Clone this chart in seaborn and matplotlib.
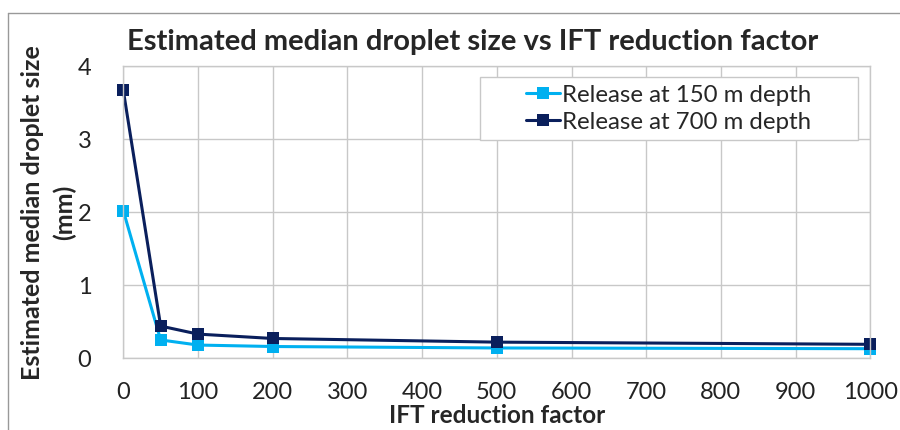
import matplotlib
matplotlib.use("Agg")
import matplotlib.pyplot as plt
from matplotlib.lines import Line2D
from matplotlib.patches import Rectangle
import seaborn as sns
import pandas as pd

# Data
ift_factor = [0, 50, 100, 200, 500, 1000]
size_150m = [2.02, 0.25, 0.18, 0.16, 0.14, 0.13]
size_700m = [3.67, 0.44, 0.33, 0.27, 0.22, 0.19]
series_names = ["Release at 150 m depth", "Release at 700 m depth"]
x_ticks = list(range(0, 1001, 100))
y_ticks = [0, 1, 2, 3, 4]

sns.set_theme(style="whitegrid")
plt.rcParams["font.family"] = ["Lato", "DejaVu Sans"]

df = pd.DataFrame({
    "ift": ift_factor * 2,
    "size": size_150m + size_700m,
    "series": [series_names[0]] * len(ift_factor) + [series_names[1]] * len(ift_factor),
})

fig = plt.figure(figsize=(9, 4.3), dpi=100)
ax = fig.add_axes([0.137, 0.167, 0.83, 0.679])

palette = {series_names[0]: "#00B0F0", series_names[1]: "#0A1F5C"}
sns.lineplot(data=df, x="ift", y="size", hue="series", palette=palette,
             marker="s", markersize=8, markeredgewidth=0, linewidth=2.2, ax=ax)
for ln in ax.lines:
    ln.set_clip_on(False)

ax.set_xlim(0, 1000)
ax.set_ylim(0, 4)
ax.set_xticks(x_ticks)
ax.set_yticks(y_ticks)
ax.grid(True, color="#c8c8c8", linewidth=1)
for s in ax.spines.values():
    s.set_color("#c8c8c8")
    s.set_linewidth(1)
ax.tick_params(axis="x", labelsize=17, colors="#222222", pad=11)
ax.tick_params(axis="y", labelsize=17, colors="#222222", pad=17)

ax.set_xlabel("IFT reduction factor", fontsize=17.5, fontweight="bold", labelpad=1)
ax.set_ylabel("Estimated median droplet size\n(mm)", fontsize=18, fontweight="bold",
              labelpad=1, linespacing=1.45)
ax.set_title("Estimated median droplet size vs IFT reduction factor",
             fontsize=21, fontweight="bold", pad=12, x=0.467)

# legend: Excel-style box with entries centred inside
ax.add_patch(Rectangle((0.478, 0.747), 0.505, 0.215, transform=ax.transAxes,
                       facecolor="white", edgecolor="#c8c8c8", linewidth=1, zorder=4))
leg = ax.legend(loc="center", bbox_to_anchor=(0.73, 0.855), fontsize=17.3,
                frameon=False, handlelength=1.4, handletextpad=0.1,
                borderpad=0.1, labelspacing=0.25)
leg.set_zorder(5)

# outer chart border (left and top edges visible in the reference)
fig.add_artist(Line2D([0.009, 0.009], [0.0, 0.97], transform=fig.transFigure,
                      color="#999999", linewidth=1))
fig.add_artist(Line2D([0.009, 1.0], [0.97, 0.97], transform=fig.transFigure,
                      color="#999999", linewidth=1))

fig.savefig("out.png", dpi=100)
